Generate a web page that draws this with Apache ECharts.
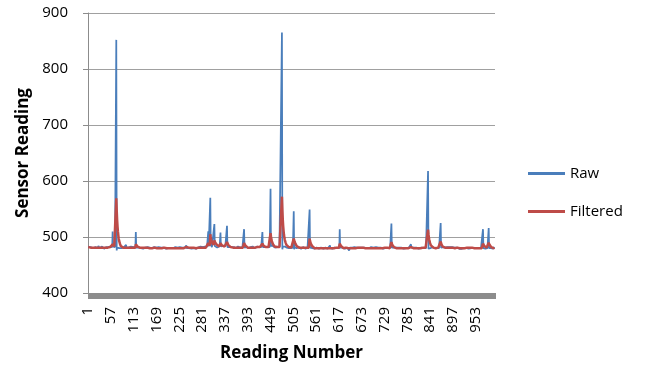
<!DOCTYPE html>
<html>
<head>
<meta charset="utf-8">
<script src="https://cdn.jsdelivr.net/npm/echarts@6/dist/echarts.min.js"></script>
<style>
html,body{margin:0;padding:0;background:#fff;}
#chart{width:648px;height:365px;}
</style>
</head>
<body>
<div id="chart"></div>
<script>
// Raw sensor readings (reading 1..1000)
const rawValues = [
482,481,483,482,480,481,482,484,481,482, 481,482,480,481,483,482,481,480,482,481, 483,481,482,480,481,484,482,481,480,482, 481,480,482,481,483,481,480,482,481,479, 481,482,480,481,482,481,483,480,481,482,
481,480,482,481,483,481,482,480,481,482, 510,483,481,482,480,481,482,481,483,852, 476,481,483,480,482,481,480,482,481,480, 482,481,480,483,481,482,480,481,482,481, 480,482,481,486,481,480,482,481,479,481,
482,481,480,482,481,483,480,481,482,480, 481,482,481,480,482,481,483,509,481,480, 482,481,480,479,481,482,481,480,482,481, 480,481,482,480,481,479,481,482,480,481, 481,480,482,481,480,481,482,480,479,481,
480,481,479,480,482,481,480,479,481,480, 481,480,482,480,479,481,480,481,482,480, 479,481,480,482,481,480,479,481,480,481, 480,482,481,479,480,481,480,482,481,480, 481,479,480,481,482,480,481,480,479,481,
480,481,482,480,479,481,480,482,481,480, 479,480,481,480,482,481,479,480,481,480, 481,480,479,481,480,482,481,480,479,481, 480,481,480,482,481,479,480,481,482,480, 481,485,480,479,481,482,480,481,480,482,
481,480,482,481,479,480,481,482,480,481, 480,482,481,480,481,479,481,482,481,480, 481,480,482,481,480,481,483,480,481,482, 480,481,482,481,480,482,481,483,481,480, 482,481,483,482,484,510,483,482,484,483,
570,486,483,484,482,485,483,482,484,483, 523,484,482,483,485,482,483,481,482,484, 483,482,481,484,482,508,483,482,481,483, 482,484,481,482,483,481,482,484,482,481, 483,520,482,481,483,482,480,481,482,481,
482,481,480,482,481,483,481,480,482,481, 480,482,481,480,481,482,480,481,483,481, 480,481,482,481,480,482,481,480,481,482, 481,480,482,514,481,480,482,481,480,482, 481,480,481,482,480,481,483,481,480,482,
481,482,480,481,483,481,480,482,481,480, 482,481,480,482,481,483,481,482,480,481, 482,481,483,481,480,482,481,482,509,482, 481,483,482,481,480,482,483,481,482,484, 482,481,483,482,484,483,482,485,586,484,
482,483,481,482,484,482,481,483,482,481, 483,482,481,484,482,481,483,482,481,482, 483,481,482,484,482,483,865,478,483,482, 484,482,481,483,482,481,482,483,481,482, 481,483,482,480,481,482,481,483,480,481,
482,481,483,481,482,546,478,482,481,480, 482,481,480,482,481,483,480,481,482,481, 480,482,481,479,481,482,480,481,482,480, 481,482,480,481,479,481,482,480,481,482, 480,481,482,480,549,481,479,481,480,482,
481,480,479,481,480,482,479,480,481,479, 480,481,479,480,478,480,481,479,480,481, 479,480,481,479,480,478,480,481,479,480, 481,479,480,481,480,479,481,480,479,481, 480,481,479,480,485,480,481,479,480,481,
479,480,481,480,479,481,480,482,481,480, 481,480,479,481,482,480,481,480,514,481, 480,482,481,480,479,481,480,481,482,480, 481,479,480,482,481,480,479,481,480,481, 480,476,479,481,480,482,481,479,480,481,
480,481,479,480,482,481,480,479,481,480, 481,480,482,481,479,480,481,480,482,481, 480,479,481,480,481,482,480,479,481,480, 481,480,482,481,480,479,481,480,481,482, 480,481,479,481,480,482,481,480,479,481,
480,481,482,480,481,479,480,482,481,480, 481,480,479,481,482,480,481,480,479,481, 480,482,481,480,481,479,481,480,482,481, 480,481,479,480,482,481,480,481,479,480, 481,480,482,481,480,524,481,479,480,481,
480,481,482,480,479,481,480,481,482,480, 481,479,480,481,482,480,481,480,479,481, 480,482,481,480,481,479,480,481,482,480, 481,480,479,481,480,482,481,480,481,479, 480,481,480,487,481,480,482,481,480,479,
481,480,482,481,479,480,481,482,480,481, 480,481,479,480,482,481,480,479,481,480, 481,480,482,481,480,479,481,480,482,481, 480,481,479,482,481,618,479,481,480,482, 481,480,482,481,480,481,482,480,481,480,
482,481,480,481,479,481,482,480,481,480, 481,482,480,481,480,482,525,481,480,482, 481,480,482,481,480,481,479,481,482,480, 481,480,482,481,480,479,481,480,482,481, 480,481,479,480,482,481,480,481,479,480,
481,480,482,481,480,479,481,480,482,481, 480,481,479,480,482,481,480,481,479,480, 481,482,480,481,480,479,481,482,480,481, 480,481,482,480,481,479,480,481,482,480, 481,480,479,481,482,480,481,480,479,481,
480,481,482,480,481,479,480,482,481,480, 481,480,479,481,482,480,481,480,479,481, 514,480,482,481,480,481,479,481,480,482, 481,480,482,481,516,480,481,479,482,481, 480,481,482,480,481,479,481,480,482,481
];

// Filtered readings (reading 1..1000)
const filteredValues = [
482,482,482,482,481,481,481,482,482,482, 481,481,481,481,482,482,481,481,481,481, 482,482,482,481,481,482,482,482,481,481, 481,481,481,481,482,482,481,481,481,480, 481,481,481,481,481,481,482,481,481,481,
481,481,481,481,482,482,482,481,481,481, 487,486,485,484,483,482,482,481,481,569, 548,531,519,510,503,497,493,490,488,486, 484,483,482,482,481,481,481,481,481,481, 481,481,481,482,481,481,481,481,481,481,
481,481,481,481,481,482,481,481,481,481, 481,481,481,481,481,481,481,487,486,485, 484,483,482,482,481,481,481,481,481,481, 481,481,481,481,481,480,480,481,481,481, 481,481,481,481,481,481,481,481,480,480,
480,480,480,480,480,480,480,480,480,480, 480,480,481,481,480,480,480,480,480,480, 480,480,480,481,481,480,480,480,480,480, 480,480,480,480,480,480,480,481,481,480, 480,480,480,480,481,481,480,480,480,480,
480,480,481,481,480,480,480,481,481,480, 480,480,480,480,481,481,480,480,480,480, 480,480,480,480,480,481,481,480,480,480, 480,480,480,481,481,480,480,480,481,481, 481,482,481,480,480,481,481,481,480,481,
481,481,481,481,480,480,480,481,481,481, 480,481,481,481,481,480,480,481,481,481, 481,481,481,481,481,481,482,481,481,481, 481,481,481,481,481,481,481,482,482,481, 481,481,482,482,482,489,488,487,486,485,
505,500,496,493,491,490,488,487,486,485, 494,492,490,489,488,487,486,485,484,484, 484,483,483,483,483,489,488,487,486,485, 485,484,484,483,483,483,482,482,482,482, 482,491,489,488,486,485,484,483,483,482,
482,482,481,481,481,481,481,481,481,481, 481,481,481,481,481,481,481,481,481,481, 481,481,481,481,481,481,481,481,481,481, 481,481,481,489,487,486,485,484,483,482, 482,481,481,481,481,481,481,481,481,481,
481,481,481,481,481,481,481,481,481,481, 481,481,481,481,481,482,482,481,481,481, 481,481,482,482,481,481,481,481,488,486, 485,484,483,482,482,482,482,482,482,482, 482,482,482,482,483,483,483,483,507,501,
497,493,490,489,487,486,485,484,483,483, 482,482,482,482,482,482,482,482,482,482, 482,482,482,482,482,482,572,549,532,520, 511,504,499,495,492,490,488,486,485,484, 483,483,482,482,482,481,481,481,481,481,
481,481,481,481,481,497,494,492,490,488, 486,485,484,483,482,482,481,481,481,481, 481,481,481,481,481,481,481,481,481,481, 481,481,481,481,481,481,481,481,481,481, 481,481,481,481,497,493,490,488,486,485,
484,483,482,482,481,481,480,480,480,480, 480,480,480,480,480,480,480,480,480,480, 480,480,480,480,480,479,479,480,480,480, 480,480,480,480,480,480,480,480,480,480, 480,480,480,480,481,481,480,480,480,480,
480,480,480,480,480,480,480,481,481,481, 481,480,480,480,481,481,481,480,488,486, 485,484,483,482,481,481,481,480,481,481, 480,480,480,481,481,480,480,480,480,480, 480,479,479,480,480,480,481,480,480,480,
480,480,480,480,481,481,480,480,480,480, 480,480,481,481,480,480,480,480,481,481, 480,480,480,480,480,481,481,480,480,480, 480,480,481,481,480,480,480,480,480,481, 481,480,480,480,480,481,481,480,480,480,
480,480,481,481,480,480,480,481,481,480, 480,480,480,480,481,481,480,480,480,480, 480,481,481,480,480,480,480,480,481,481, 480,480,480,480,481,481,480,480,480,480, 480,480,481,481,480,491,488,486,485,484,
483,482,481,481,480,480,480,480,481,481, 480,480,480,480,481,481,480,480,480,480, 480,481,481,480,480,480,480,480,481,481, 480,480,480,480,480,481,481,480,480,480, 480,480,480,482,481,481,481,481,480,480,
480,480,481,481,480,480,480,481,481,480, 480,480,480,480,481,481,480,480,480,480, 480,480,481,481,480,480,480,480,481,481, 480,480,480,480,481,513,505,499,495,492, 489,487,485,484,483,482,482,481,481,481,
481,481,481,481,480,480,481,481,481,481, 481,481,481,481,481,481,492,489,487,485, 484,483,482,482,481,481,481,481,481,481, 481,481,481,481,480,480,480,481,481,481, 480,480,480,480,481,481,480,480,480,480,
480,480,481,481,480,480,480,481,481,481, 480,480,480,480,481,481,480,480,480,480, 481,481,481,481,480,480,480,481,481,481, 480,481,481,481,480,480,480,481,481,481, 480,480,480,481,481,481,480,480,480,480,
480,480,481,481,480,480,480,481,481,480, 480,480,480,480,481,481,480,480,480,480, 488,486,485,484,483,482,481,481,481,481, 481,481,481,481,490,488,486,485,484,483, 482,482,481,481,481,481,480,480,481,481
];

// Category labels: reading numbers
const readingNumbers = rawValues.map((_, i) => String(i + 1));
const seriesNames = ['Raw', 'Filtered'];
const yTicks = { min: 400, max: 900, step: 100 };

const FONT = 'Open Sans';
const chart = echarts.init(document.getElementById('chart'), null, { renderer: 'canvas' });
chart.setOption({
  animation: false,
  backgroundColor: '#ffffff',
  textStyle: { fontFamily: FONT },
  grid: { left: 88, right: 153, top: 13, bottom: 72, containLabel: false, outerBoundsMode: 'none' },
  legend: {
    data: seriesNames,
    orient: 'vertical',
    left: 528,
    top: 166,
    padding: 0,
    icon: 'rect',
    itemWidth: 37,
    itemHeight: 3,
    itemGap: 23,
    textStyle: { fontFamily: FONT, fontSize: 15, color: '#000' }
  },
  xAxis: {
    type: 'category',
    data: readingNumbers,
    boundaryGap: true,
    name: 'Reading Number',
    nameLocation: 'middle',
    nameGap: 52,
    nameTextStyle: { fontFamily: FONT, fontSize: 17, fontWeight: 'bold', color: '#000' },
    axisLine: { show: true, lineStyle: { color: '#8c8c8c', width: 1 } },
    axisTick: { show: true, interval: 0, length: 6, lineStyle: { color: '#8c8c8c', width: 1 } },
    axisLabel: { interval: 55, rotate: 90, fontSize: 15, color: '#000', margin: 14, fontFamily: FONT },
    splitLine: { show: false }
  },
  yAxis: {
    type: 'value',
    min: yTicks.min,
    max: yTicks.max,
    interval: yTicks.step,
    name: 'Sensor Reading',
    nameLocation: 'middle',
    nameGap: 47,
    nameTextStyle: { fontFamily: FONT, fontSize: 17, fontWeight: 'bold', color: '#000' },
    axisLine: { show: true, lineStyle: { color: '#8c8c8c', width: 1 } },
    axisTick: { show: true, length: 5, lineStyle: { color: '#8c8c8c' } },
    axisLabel: { fontSize: 15, color: '#000', margin: 20, fontFamily: FONT },
    splitLine: { show: true, lineStyle: { color: '#a0a0a0', width: 1 } }
  },
  series: [
    {
      name: seriesNames[0],
      type: 'line',
      data: rawValues,
      showSymbol: false,
      symbol: 'none',
      color: '#4a7ebb',
      lineStyle: { color: '#4a7ebb', width: 1.75 },
      z: 2
    },
    {
      name: seriesNames[1],
      type: 'line',
      data: filteredValues,
      showSymbol: false,
      symbol: 'none',
      color: '#be4b48',
      lineStyle: { color: '#be4b48', width: 2.5 },
      z: 3
    }
  ]
});
</script>
</body>
</html>
